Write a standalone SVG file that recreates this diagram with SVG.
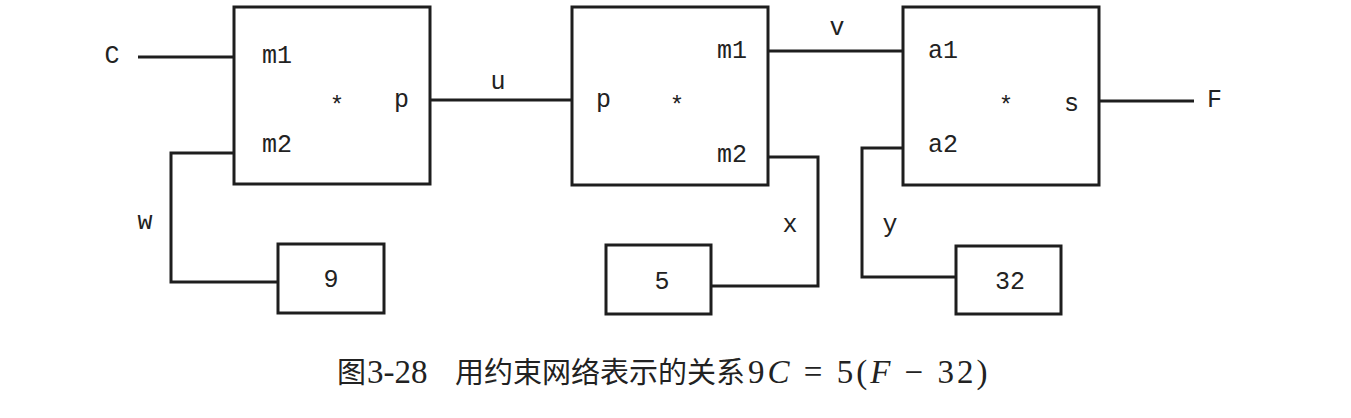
<svg xmlns="http://www.w3.org/2000/svg" width="1351" height="418" viewBox="0 0 1351 418">
<style>
.box{fill:#fff;stroke:#1e1e1e;stroke-width:3}
.wire{fill:none;stroke:#1e1e1e;stroke-width:3}
.t{font-family:"Liberation Mono","DejaVu Sans Mono",monospace;font-size:25px;fill:#222;dominant-baseline:central}
.n{font-family:"Liberation Mono","DejaVu Sans Mono",monospace;font-size:25px;fill:#222;dominant-baseline:central;text-anchor:middle}
.star{font-family:"Liberation Mono","DejaVu Sans Mono",monospace;font-size:24px;fill:#222;text-anchor:middle}
.cap{font-family:"Liberation Serif","Noto Sans CJK SC",serif;font-size:33px;fill:#222}
.cj{font-family:"Noto Sans CJK SC",sans-serif;font-size:29px}
</style>
<rect width="1351" height="418" fill="#fff"/>
<g id="connectors">
<path class="wire" d="M138,57 H234"/>
<path class="wire" d="M430,100 H572"/>
<path class="wire" d="M768,51 H903"/>
<path class="wire" d="M1099,101 H1194"/>
<path class="wire" d="M234,153 H171 V282 H278"/>
<path class="wire" d="M768,157 H818 V286 H711"/>
<path class="wire" d="M903,148 H862 V277 H956"/>
<text class="n" x="112" y="56">C</text>
<text class="n" x="498" y="82">u</text>
<text class="n" x="837" y="28">v</text>
<text class="t" x="1207" y="100">F</text>
<text class="n" x="145" y="222">w</text>
<text class="n" x="790" y="225">x</text>
<text class="n" x="890" y="225">y</text>
</g>
<g id="mult1">
<rect class="box" x="234" y="7" width="196" height="177"/>
<text class="t" x="262" y="56">m1</text>
<text class="t" x="262" y="145">m2</text>
<text class="star" x="337" y="113">*</text>
<text class="t" x="394" y="100">p</text>
</g>
<g id="mult2">
<rect class="box" x="572" y="7" width="196" height="178"/>
<text class="t" x="596" y="100">p</text>
<text class="star" x="677" y="113">*</text>
<text class="t" x="747" y="51" text-anchor="end">m1</text>
<text class="t" x="747" y="155" text-anchor="end">m2</text>
</g>
<g id="adder">
<rect class="box" x="903" y="7" width="196" height="178"/>
<text class="t" x="928" y="51">a1</text>
<text class="t" x="928" y="145">a2</text>
<text class="star" x="1006" y="113">*</text>
<text class="t" x="1064" y="104">s</text>
</g>
<g id="const9">
<rect class="box" x="278" y="244" width="106" height="69"/>
<text class="n" x="331" y="280">9</text>
</g>
<g id="const5">
<rect class="box" x="606" y="245" width="105" height="69"/>
<text class="n" x="662" y="282">5</text>
</g>
<g id="const32">
<rect class="box" x="956" y="246" width="105" height="68"/>
<text class="n" x="1010" y="282">32</text>
</g>
<text class="cap" y="383"><tspan class="cj" x="337">图</tspan><tspan x="367">3-28</tspan><tspan class="cj" x="455">用约束网络表示的关系</tspan><tspan x="748" letter-spacing="3">9<tspan font-style="italic">C</tspan> = 5(<tspan font-style="italic">F</tspan> − 32)</tspan></text>
</svg>
